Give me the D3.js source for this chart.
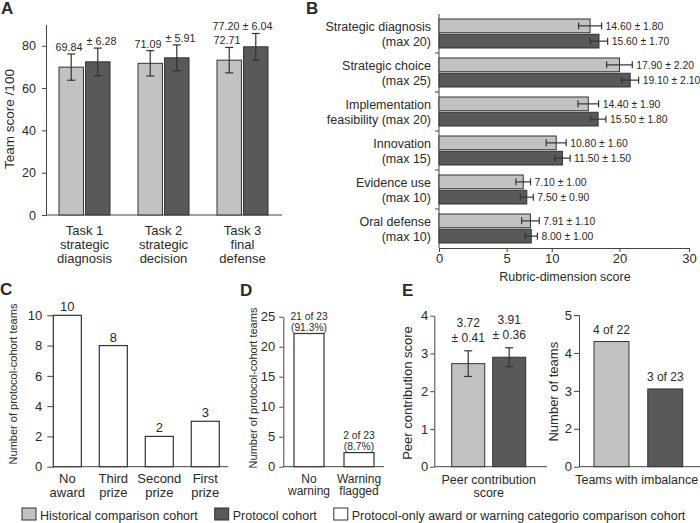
<!DOCTYPE html>
<html><head><meta charset="utf-8">
<script src="https://cdn.jsdelivr.net/npm/d3@7"></script>
<style>
body{margin:0;background:#fff}
svg{display:block}
text{font-family:"Liberation Sans",Arial,Helvetica,sans-serif;fill:#2a2a2a}
</style>
</head><body>
<svg id="c" width="700" height="523"></svg>
<script>
// ---------------- DATA ----------------
// Panel A
const taskLabels = [["Task 1","strategic","diagnosis"],["Task 2","strategic","decision"],["Task 3","final","defense"]];
const taskHist = [69.9, 71.7, 73.2];
const taskProt = [72.4, 74.3, 79.5];
const taskHistErr = [6.2, 6.0, 6.0];
const taskProtErr = [6.5, 6.1, 6.3];
const taskHistText = ["69.84","71.09","72.71"];
const taskProtText = ["± 6.28","± 5.91","77.20 ± 6.04"];
const taskTicks = [0,20,40,60,80];

// Panel B
const dimLabels = [["Strategic diagnosis","(max 20)"],["Strategic choice","(max 25)"],["Implementation","feasibility (max 20)"],["Innovation","(max 15)"],["Evidence use","(max 10)"],["Oral defense","(max 10)"]];
const dimHist = [14.6, 17.9, 14.4, 10.8, 7.1, 7.91];
const dimProt = [15.6, 19.1, 15.5, 11.5, 7.5, 8.0];
const dimHistErr = [1.29, 1.44, 1.16, 1.12, 0.82, 0.99];
const dimProtErr = [0.97, 0.95, 0.88, 0.86, 0.73, 0.69];
const dimHistText = ["14.60 ± 1.80","17.90 ± 2.20","14.40 ± 1.90","10.80 ± 1.60","7.10 ± 1.00","7.91 ± 1.10"];
const dimProtText = ["15.60 ± 1.70","19.10 ± 2.10","15.50 ± 1.80","11.50 ± 1.50","7.50 ± 0.90","8.00 ± 1.00"];
const dimDomain = [-2.35, 25.7];
const dimTickAt = [-2.35, 5.24, 10.3, 17.9, 25.7];
const dimTickLabels = ["0","5","10","20","30"];

// Panel C
const awardCats = [["No","award"],["Third","prize"],["Second","prize"],["First","prize"]];
const awardCounts = [10, 8, 2, 3];
const awardTicks = [0,2,4,6,8,10];

// Panel D
const warnCats = [["No","warning"],["Warning","flagged"]];
const warnCounts = [22.2, 2.35];
const warnText = [["21 of 23","(91.3%)"],["2 of 23","(8.7%)"]];
const warnTicks = [0,5,10,15,20,25];

// Panel E
const peerVals = [2.73, 2.9];
const peerErr = [0.34, 0.25];
const peerText = [["3.72","± 0.41"],["3.91","± 0.36"]];
const peerTicks = [0,1,2,3,4];
const imbVals = [4.3, 3.05];
const imbText = ["4 of 22","3 of 23"];
const imbTickAt = [1,2,3,4,5];
const imbTickLabels = ["0","2","3","4","5"];

const legendItems = ["Historical comparison cohort","Protocol cohort","Protocol-only award or warning categorio comparison cohort"];

// ---------------- STYLE ----------------
const HIST = "#c2c2c2", PROT = "#595959", OPEN = "#ffffff";
const AX = "#444", STROKE = "#333", TXT = "#2a2a2a";
const svg = d3.select("#c");
const fmtInt = d3.format("d");

function styleAxis(g, fs){
  g.selectAll("path,line").attr("stroke",AX).attr("stroke-width",1);
  g.selectAll("text").attr("fill",TXT).style("font-size",fs+"px");
}
function line(g,x1,y1,x2,y2,c,w){
  g.append("line").attr("x1",x1).attr("y1",y1).attr("x2",x2).attr("y2",y2)
   .attr("stroke",c||AX).attr("stroke-width",w||1);
}
function txt(g,x,y,s,fs,anchor){
  return g.append("text").attr("x",x).attr("y",y).attr("text-anchor",anchor||"middle")
   .style("font-size",fs+"px").text(s);
}
function vlabel(g,cx,cy,s,fs){
  g.append("text").attr("transform",`translate(${cx},${cy}) rotate(-90)`)
   .attr("text-anchor","middle").attr("dy","0.35em").style("font-size",fs+"px").text(s);
}
function panelLetter(x,y,s){
  svg.append("text").attr("x",x).attr("y",y).style("font-size","17px").style("font-weight","bold").attr("fill","#111").text(s);
}
function vErr(g,cx,y1,y2,cap){
  line(g,cx,y1,cx,y2,STROKE,1.2);
  line(g,cx-cap/2,y1,cx+cap/2,y1,STROKE,1.2);
  line(g,cx-cap/2,y2,cx+cap/2,y2,STROKE,1.2);
}
function hErr(g,cy,x1,x2,cap){
  line(g,x1,cy,x2,cy,STROKE,1.2);
  line(g,x1,cy-cap/2,x1,cy+cap/2,STROKE,1.2);
  line(g,x2,cy-cap/2,x2,cy+cap/2,STROKE,1.2);
}

// ---------------- PANEL A ----------------
{
  const g = svg.append("g");
  const xA = d3.scaleBand().domain(d3.range(taskLabels.length)).range([45,282]);
  const xIn = d3.scaleBand().domain(["h","p"]).range([14,65]).paddingInner(0.08);
  const yA = d3.scaleLinear().domain([0,90]).range([215,24.6]);
  g.append("g").attr("transform","translate(46,0)")
   .call(d3.axisLeft(yA).tickValues(taskTicks).tickFormat(fmtInt).tickSize(4).tickPadding(6).tickSizeOuter(0))
   .call(styleAxis,12.5);
  line(g,46,yA(0),xA.range()[1],yA(0));
  const series = [
    {k:"h",v:taskHist,e:taskHistErr,t:taskHistText,c:HIST},
    {k:"p",v:taskProt,e:taskProtErr,t:taskProtText,c:PROT}];
  series.forEach(s=>{
    s.v.forEach((v,i)=>{
      const x0 = xA(i)+xIn(s.k), w = xIn.bandwidth(), cx = x0+w/2;
      g.append("rect").attr("x",x0).attr("y",yA(v)).attr("width",w).attr("height",yA(0)-yA(v))
       .attr("fill",s.c).attr("stroke",STROKE).attr("stroke-width",1);
      vErr(g,cx,yA(v+s.e[i]),yA(v-s.e[i]),8);
      const full = s.t[i].indexOf("±")>0;
      const ly = yA(v+s.e[i])-3;
      if(full) txt(g,xA(i)+xA.bandwidth()/2,ly,s.t[i],10.8);
      else if(s.k==="h") txt(g,x0+w-1,ly,s.t[i],10.8,"end");
      else txt(g,x0+1,ly,s.t[i],10.8,"start");
    });
  });
  taskLabels.forEach((ls,i)=>{
    ls.forEach((l,j)=>txt(g,xA(i)+xA.bandwidth()/2,234.5+j*14.2,l,13));
  });
  vlabel(g,9,119,"Team score /100",13.5);
  panelLetter(1,14,"A");
}

// ---------------- PANEL B ----------------
{
  const g = svg.append("g");
  const xB = d3.scaleLinear().domain(dimDomain).range([439,689]);
  const y0 = d3.scaleBand().domain(d3.range(dimLabels.length)).range([14,248]);
  const y1 = d3.scaleBand().domain(["h","p"]).range([5,34]).paddingInner(0.1);
  g.append("g").attr("transform","translate(0,248)")
   .call(d3.axisBottom(xB).tickValues(dimTickAt).tickFormat((d,i)=>dimTickLabels[i]).tickSize(4).tickPadding(2).tickSizeOuter(0))
   .call(styleAxis,13);
  line(g,439,14,439,248);
  for(let i=1;i<dimLabels.length;i++) line(g,435,y0(i),439,y0(i));
  const series = [
    {k:"h",v:dimHist,e:dimHistErr,t:dimHistText,c:HIST},
    {k:"p",v:dimProt,e:dimProtErr,t:dimProtText,c:PROT}];
  const x0 = xB(dimDomain[0]);
  series.forEach(s=>{
    s.v.forEach((v,i)=>{
      const yy = y0(i)+y1(s.k), h = y1.bandwidth(), cy = yy+h/2;
      g.append("rect").attr("x",x0).attr("y",yy).attr("width",xB(v)-x0).attr("height",h)
       .attr("fill",s.c).attr("stroke",STROKE).attr("stroke-width",1);
      hErr(g,cy,xB(v-s.e[i]),xB(v+s.e[i]),7);
      txt(g,xB(v+s.e[i])+4,cy+3.8,s.t[i],10.4,"start");
    });
  });
  dimLabels.forEach((ls,i)=>{
    const c = y0(i)+y0.bandwidth()/2;
    txt(g,431,c-7.5+4.5,ls[0],12.5,"end");
    txt(g,431,c+7.5+4.5,ls[1],12.5,"end");
  });
  txt(g,565,281,"Rubric-dimension score",12.5);
  panelLetter(306,14,"B");
}

// ---------------- PANEL C ----------------
{
  const g = svg.append("g");
  const xC = d3.scaleBand().domain(d3.range(awardCats.length)).range([53.3,219.3]).paddingInner(0.39).paddingOuter(0);
  const yC = d3.scaleLinear().domain([0,10]).range([466.7,315.3]);
  g.append("g").attr("transform","translate(53.3,0)")
   .call(d3.axisLeft(yC).tickValues(awardTicks).tickFormat(fmtInt).tickSize(6).tickPadding(5).tickSizeOuter(0))
   .call(styleAxis,13);
  line(g,53.3,yC(0),228.3,yC(0));
  awardCounts.forEach((v,i)=>{
    g.append("rect").attr("x",xC(i)).attr("y",yC(v)).attr("width",xC.bandwidth()).attr("height",yC(0)-yC(v))
     .attr("fill",OPEN).attr("stroke",STROKE).attr("stroke-width",1.2);
    const cx = xC(i)+xC.bandwidth()/2;
    txt(g,cx,yC(v)-4,String(v),13);
    awardCats[i].forEach((l,j)=>txt(g,cx,483+j*14,l,13));
  });
  vlabel(g,13.3,384,"Number of protocol-cohort teams",11);
  panelLetter(0,295,"C");
}

// ---------------- PANEL D ----------------
{
  const g = svg.append("g");
  const xD = d3.scaleBand().domain(d3.range(warnCats.length)).range([294,374]).paddingInner(0.4).paddingOuter(0);
  const yD = d3.scaleLinear().domain([0,25]).range([466.7,316.7]);
  g.append("g").attr("transform","translate(283.3,0)")
   .call(d3.axisLeft(yD).tickValues(warnTicks).tickFormat(fmtInt).tickSize(4).tickPadding(4).tickSizeOuter(0))
   .call(styleAxis,13);
  line(g,283.3,yD(0),384,yD(0));
  warnCounts.forEach((v,i)=>{
    g.append("rect").attr("x",xD(i)).attr("y",yD(v)).attr("width",xD.bandwidth()).attr("height",yD(0)-yD(v))
     .attr("fill",OPEN).attr("stroke",STROKE).attr("stroke-width",1.2);
    const cx = xD(i)+xD.bandwidth()/2;
    txt(g,cx,yD(v)-14,warnText[i][0],10.3);
    txt(g,cx,yD(v)-2.5,warnText[i][1],10.3);
    warnCats[i].forEach((l,j)=>txt(g,cx,482.5+j*12.5,l,12));
  });
  vlabel(g,253.3,388,"Number of protocol-cohort teams",11);
  panelLetter(240,296,"D");
}

// ---------------- PANEL E ----------------
{
  const g = svg.append("g");
  const xL = d3.scaleBand().domain(["h","p"]).range([451.7,525.7]).paddingInner(0.195).paddingOuter(0);
  const yL = d3.scaleLinear().domain([0,4]).range([466.7,315.7]);
  g.append("g").attr("transform","translate(434.3,0)")
   .call(d3.axisLeft(yL).tickValues(peerTicks).tickFormat(fmtInt).tickSize(4).tickPadding(2).tickSizeOuter(0))
   .call(styleAxis,13);
  line(g,434.3,yL(0),547,yL(0));
  const cols = [HIST, PROT];
  peerVals.forEach((v,i)=>{
    const k = xL.domain()[i], x0 = xL(k), w = xL.bandwidth(), cx = x0+w/2;
    g.append("rect").attr("x",x0).attr("y",yL(v)).attr("width",w).attr("height",yL(0)-yL(v))
     .attr("fill",cols[i]).attr("stroke",STROKE).attr("stroke-width",1);
    vErr(g,cx,yL(v+peerErr[i]),yL(v-peerErr[i]),8);
    txt(g,cx,yL(v+peerErr[i])-24,peerText[i][0],12);
    txt(g,cx,yL(v+peerErr[i])-9,peerText[i][1],12);
  });
  txt(g,488.7,484,"Peer contribution",12.5);
  txt(g,488.7,496.5,"score",12.5);
  vlabel(g,407.5,393,"Peer contribution score",13);

  const xR = d3.scaleBand().domain(["h","p"]).range([594,682.7]).paddingInner(0.35).paddingOuter(0);
  const yR = d3.scaleLinear().domain([1,5]).range([466.7,315]);
  g.append("g").attr("transform","translate(579,0)")
   .call(d3.axisLeft(yR).tickValues(imbTickAt).tickFormat((d,i)=>imbTickLabels[i]).tickSize(5).tickPadding(2).tickSizeOuter(0))
   .call(styleAxis,13);
  line(g,579,yR(1),700,yR(1));
  imbVals.forEach((v,i)=>{
    const k = xR.domain()[i], x0 = xR(k), w = xR.bandwidth(), cx = x0+w/2;
    g.append("rect").attr("x",x0).attr("y",yR(v)).attr("width",w).attr("height",yR(1)-yR(v))
     .attr("fill",cols[i]).attr("stroke",STROKE).attr("stroke-width",1);
    txt(g,cx,yR(v)-7.5,imbText[i],12);
  });
  txt(g,636.7,484,"Teams with imbalance",12.5);
  vlabel(g,553.3,391.7,"Number of teams",13);
  panelLetter(402,296,"E");
}

// ---------------- LEGEND ----------------
{
  const g = svg.append("g");
  const fills = [HIST, PROT, OPEN];
  let x = 22;
  legendItems.forEach((s,i)=>{
    g.append("rect").attr("x",x).attr("y",508).attr("width",14).attr("height",12)
     .attr("fill",fills[i]).attr("stroke",STROKE).attr("stroke-width",1);
    const t = txt(g,x+18,519.5,s,12.5,"start");
    x = x + 18 + t.node().getComputedTextLength() + 17;
  });
}
</script>
</body></html>
